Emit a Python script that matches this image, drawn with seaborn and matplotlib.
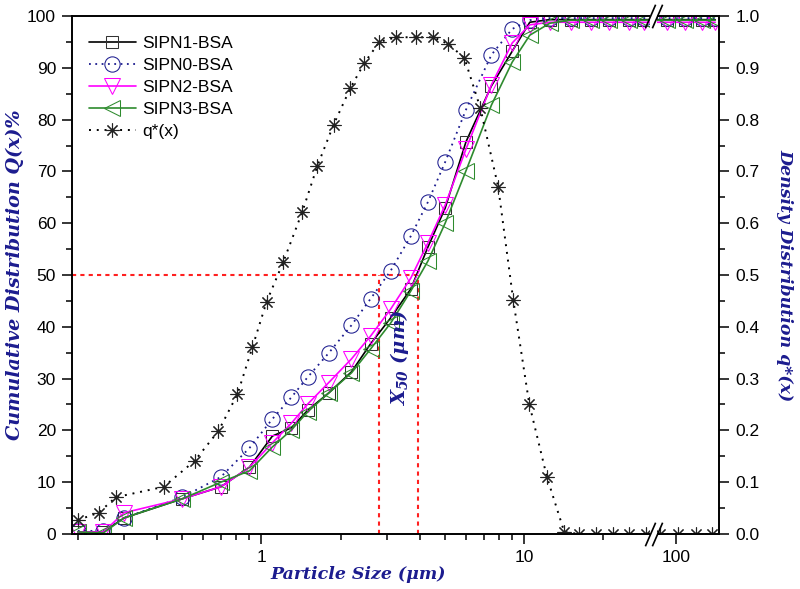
import numpy as np
import seaborn as sns
import matplotlib.pyplot as plt
from matplotlib.patches import Rectangle

# size classes for the cumulative curves (um)
size_cum = [0.2, 0.25, 0.3, 0.5, 0.7, 0.9, 1.1, 1.3, 1.5, 1.8, 2.2, 2.6, 3.1, 3.7,
            4.3, 5.0, 6.0, 7.5, 9.0, 10.5, 12.5, 15, 18, 21, 25, 28.5,
            92.5, 108, 126, 141]

# cumulative distribution Q(x) %
sipn1 = [0.4, 0.4, 3.1, 6.8, 9.1, 12.9, 18.9, 20.5, 23.9, 27.2, 31.3, 36.7, 41.7, 47.3,
         55.4, 62.9, 75.7, 86.5, 93.2, 98.8, 99.3, 99.3, 99.3, 99.3, 99.3, 99.3,
         99.3, 99.3, 99.3, 99.3]
sipn0 = [0.6, 0.6, 3.1, 7.1, 11.0, 16.6, 22.2, 26.4, 30.3, 34.9, 40.3, 45.4, 50.8, 57.5,
         64.1, 71.8, 81.9, 92.5, 97.5, 99.2, 99.6, 99.6, 99.6, 99.6, 99.6, 99.6,
         99.6, 99.6, 99.6, 99.6]
sipn2 = [0.4, 0.4, 4.1, 6.8, 9.1, 12.9, 17.6, 21.4, 25.1, 29.2, 33.8, 38.2, 43.4, 49.4,
         56.2, 63.5, 74.3, 86.7, 94.8, 98.3, 98.8, 98.8, 98.8, 98.8, 98.8, 98.8,
         98.8, 98.8, 98.8, 98.8]
sipn3 = [0.4, 0.2, 3.1, 6.8, 10.0, 12.2, 16.8, 20.1, 23.6, 27.2, 31.1, 35.7, 40.7, 46.9,
         52.7, 60.0, 70.1, 82.8, 91.1, 96.3, 98.6, 99.2, 99.2, 99.2, 99.2, 99.2,
         99.2, 99.2, 99.2, 99.2]

# density distribution q*(x)
size_dens = [0.2, 0.24, 0.279, 0.424, 0.556, 0.686, 0.81, 0.924, 1.045, 1.21, 1.43, 1.63,
             1.88, 2.18, 2.46, 2.81, 3.26, 3.88, 4.51, 5.14, 5.92, 6.81, 7.96, 9.08,
             10.45, 12.2, 14.2, 16.2, 18.8, 21.8, 25.1, 29.1, 87, 102, 119, 137]
q_dens = [0.027, 0.041, 0.071, 0.091, 0.141, 0.199, 0.270, 0.361, 0.448, 0.525, 0.622, 0.710,
          0.790, 0.861, 0.909, 0.950, 0.959, 0.959, 0.959, 0.946, 0.919, 0.822, 0.670, 0.452,
          0.251, 0.110, 0.004, 0, 0, 0, 0, 0, 0, 0, 0, 0]

# X50 values (um)
x50 = [2.79, 3.95]

navy = "#1c1c8f"

sns.set_style("ticks")
plt.rcParams["font.family"] = ["Liberation Sans", "DejaVu Sans"]
plt.rcParams["mathtext.fontset"] = "dejavuserif"
plt.rcParams["text.color"] = "black"
plt.rcParams["axes.edgecolor"] = "black"
plt.rcParams["xtick.color"] = "black"
plt.rcParams["ytick.color"] = "black"

# log axis with a break between 30 and 85 um
LA, LB, GAP = np.log10(30), np.log10(85), 0.03


def fwd(x):
    u = np.log10(np.clip(np.asarray(x, dtype=float), 1e-6, None))
    return np.where(u <= LA, u,
                    np.where(u < LB, LA + (u - LA) / (LB - LA) * GAP, u - (LB - LA) + GAP))


def inv(t):
    t = np.asarray(t, dtype=float)
    u = np.where(t <= LA, t,
                 np.where(t < LA + GAP, LA + (t - LA) / GAP * (LB - LA), t + (LB - LA) - GAP))
    return 10 ** u


fig = plt.figure(figsize=(8, 5.89), dpi=100)
ax = fig.add_axes([0.09, 0.0934, 0.809, 0.8794])
ax.set_xscale("function", functions=(fwd, inv))
ax2 = ax.twinx()

# red X50 guide lines
ax.plot([0.19, x50[1]], [50, 50], color="#ff2020", lw=1.5, ls=(0, (2, 2)), zorder=1)
for v in x50:
    ax.plot([v, v], [0, 50], color="#ff2020", lw=1.5, ls=(0, (2, 2)), zorder=1)

common = dict(errorbar=None, legend=False, markerfacecolor="none")
sns.lineplot(x=size_cum, y=sipn1, ax=ax, color="black", marker="s", markersize=9,
             markeredgecolor="#333333", lw=1.2, label="SIPN1-BSA", **common)
sns.lineplot(x=size_cum, y=sipn0, ax=ax, color=navy, marker="o", markersize=11,
             markeredgecolor=navy, lw=1.3, ls=(0, (1, 2.5)), label="SIPN0-BSA", **common)
sns.lineplot(x=size_cum, y=sipn2, ax=ax, color="#ff00ff", marker="v", markersize=11,
             markeredgecolor="#ff00ff", lw=1.2, label="SIPN2-BSA", **common)
sns.lineplot(x=size_cum, y=sipn3, ax=ax, color="#2e8b2e", marker="<", markersize=11,
             markeredgecolor="#2e8b2e", lw=1.2, label="SIPN3-BSA", **common)
sns.lineplot(x=size_dens, y=q_dens, ax=ax2, color="black", marker=(8, 2, 0), markersize=10,
             markeredgecolor="#222222", markeredgewidth=0.8, lw=1.4, ls=(0, (1, 3)),
             label="q*(x)", errorbar=None, legend=False)

ax.set_xlim(0.19, 146)
ax.set_ylim(0, 100)
ax2.set_ylim(0, 1.0)

ax.set_xticks([1, 10, 100])
ax.set_xticklabels(["1", "10", "100"])
ax.set_xticks([0.2, 0.3, 0.4, 0.5, 0.6, 0.7, 0.8, 0.9, 2, 3, 4, 5, 6, 7, 8, 9, 20], minor=True)
ax.set_yticks(np.arange(0, 101, 10))
ax.set_yticks(np.arange(5, 100, 10), minor=True)
ax2.set_yticks(np.arange(0, 1.01, 0.1))
ax2.set_yticklabels([f"{v:.1f}" for v in np.arange(0, 1.01, 0.1)])
ax2.set_yticks(np.arange(0.05, 1.0, 0.1), minor=True)

for a in (ax, ax2):
    a.tick_params(which="major", length=7.5, width=1.1, direction="out", labelsize=12.5, pad=4)
    a.tick_params(which="minor", length=4.5, width=1.1, direction="out")
    for s in a.spines.values():
        s.set_linewidth(1.2)
        s.set_color("black")

lab = dict(family="DejaVu Serif", style="italic", weight="bold", color=navy, fontsize=12.5)
ax.set_xlabel("Particle Size (μm)", **lab)
ax.xaxis.set_label_coords(0.442, -0.062)
ax.set_ylabel("Cumulative Distribution Q(x)%", **{**lab, "fontsize": 13.8})
ax.yaxis.set_label_coords(-0.074, 0.5)
ax2.set_ylabel("Density Distribution q*(x)", rotation=270, **lab)
ax2.yaxis.set_label_coords(1.114, 0.5)

ax.text(3.35, 34, r"$\mathbfit{X}_{\mathbfit{50}}$ (μm)", rotation=90, ha="center", va="center",
        family="DejaVu Serif", style="italic", weight="bold", color=navy, fontsize=14)

# axis break marks
ax2.add_patch(Rectangle((31.5, -0.02), 80 - 31.5, 1.04, transform=ax2.get_xaxis_transform(),
                        facecolor="white", edgecolor="none", clip_on=False, zorder=20))
for yb in (0, 1):
    ax2.plot([30.5, 84], [yb, yb], transform=ax2.get_xaxis_transform(), ls="none",
             marker=[(-1, -2.3), (1, 2.3)], markersize=17, markeredgecolor="black",
             markeredgewidth=1.2, clip_on=False, zorder=21)

handles = [l for l in ax.get_lines() + ax2.get_lines() if not l.get_label().startswith("_")]
leg = ax2.legend(handles=handles, labels=[h.get_label() for h in handles], loc="upper left",
                 bbox_to_anchor=(0.026, 0.962), frameon=False, fontsize=12.5, handlelength=2.7,
                 handletextpad=0.35, labelspacing=0.4, borderpad=0, borderaxespad=0)
leg.set_zorder(30)

plt.savefig("out.png", dpi=100)
